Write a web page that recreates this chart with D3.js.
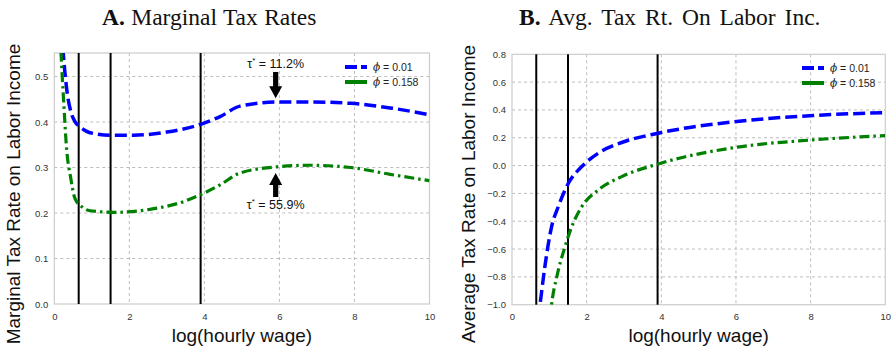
<!DOCTYPE html>
<html>
<head>
<meta charset="utf-8">
<script src="https://cdn.jsdelivr.net/npm/d3@7"></script>
<style>
  body { margin: 0; background: #fff; }
  svg { display: block; }
</style>
</head>
<body>
<div id="chart"></div>
<script>
// Panel A: marginal tax rate
const mtrX1   = [0.2, 0.24, 0.29, 0.35, 0.44, 0.55, 0.68, 0.85, 1.1, 1.5, 2.1, 3.0, 3.9, 4.42, 4.95, 6.0, 6.8, 7.9, 8.95, 10];
const mtrLow  = [0.60, 0.55, 0.503, 0.46, 0.423, 0.401, 0.39, 0.38, 0.374, 0.371, 0.371, 0.378, 0.395, 0.412, 0.435, 0.444, 0.444, 0.441, 0.431, 0.416];
const mtrX2   = [0.15, 0.18, 0.21, 0.26, 0.32, 0.44, 0.55, 0.73, 0.95, 1.6, 2.55, 3.44, 3.97, 4.42, 4.95, 6.0, 6.8, 7.9, 8.95, 10];
const mtrHigh = [0.60, 0.55, 0.503, 0.43, 0.349, 0.276, 0.232, 0.214, 0.205, 0.2015, 0.208, 0.225, 0.243, 0.262, 0.288, 0.302, 0.305, 0.300, 0.285, 0.271];

// Panel B: average tax rate
const atrX1   = [0.7, 0.75, 0.88, 1.06, 1.24, 1.51, 1.87, 2.31, 2.94, 3.92, 6.02, 8.07, 10];
const atrLow  = [-1.1, -1.0, -0.727, -0.44, -0.295, -0.127, -0.007, 0.089, 0.166, 0.233, 0.317, 0.36, 0.381];
const atrX2   = [1.02, 1.06, 1.2, 1.42, 1.6, 1.87, 2.31, 2.94, 3.92, 6.02, 8.07, 10];
const atrHigh = [-1.1, -1.0, -0.80, -0.583, -0.44, -0.295, -0.175, -0.079, 0.012, 0.132, 0.185, 0.216];

const cutoffs = [0.65, 1.5, 3.9];
const xTicks = [0, 2, 4, 6, 8, 10];
const mtrTicks = [0.0, 0.1, 0.2, 0.3, 0.4, 0.5];
const atrTicks = [-1.0, -0.8, -0.6, -0.4, -0.2, 0.0, 0.2, 0.4, 0.6, 0.8];
const seriesNames = ["0.01", "0.158"];
const tauLabels = ["11.2%", "55.9%"];

const SANS = "'Liberation Sans', Arial, sans-serif";
const SERIF = "'Liberation Serif', 'Times New Roman', serif";

const svg = d3.select("#chart").append("svg")
  .attr("width", 894).attr("height", 352);

const zip = (xs, ys) => xs.map((x, i) => [x, ys[i]]);

function panel(cfg) {
  const x = d3.scaleLinear().domain([0, 10]).range([cfg.left, cfg.right]);
  const y = d3.scaleLinear().domain(cfg.yDomain).range([cfg.bottom, cfg.top]);
  const g = svg.append("g");

  g.append("clipPath").attr("id", cfg.id)
    .append("rect")
    .attr("x", cfg.left).attr("y", cfg.top)
    .attr("width", cfg.right - cfg.left).attr("height", cfg.bottom - cfg.top);

  // grid
  g.selectAll(".gx").data(xTicks.slice(1, -1)).join("line")
    .attr("x1", d => x(d)).attr("x2", d => x(d))
    .attr("y1", cfg.top).attr("y2", cfg.bottom)
    .attr("stroke", "#bdbdbd").attr("stroke-width", 1).attr("stroke-dasharray", "3,3");
  g.selectAll(".gy").data(cfg.yTicks.filter(d => d > cfg.yDomain[0] && d < cfg.yDomain[1])).join("line")
    .attr("x1", cfg.left).attr("x2", cfg.right)
    .attr("y1", d => y(d)).attr("y2", d => y(d))
    .attr("stroke", "#bdbdbd").attr("stroke-width", 1).attr("stroke-dasharray", "3,3");

  // axes (labels only)
  const xa = g.append("g").attr("transform", `translate(0,${cfg.bottom})`)
    .call(d3.axisBottom(x).tickValues(xTicks).tickSize(0).tickPadding(9).tickFormat(d3.format("d")));
  const ya = g.append("g").attr("transform", `translate(${cfg.left},0)`)
    .call(d3.axisLeft(y).tickValues(cfg.yTicks).tickSize(0).tickPadding(6).tickFormat(d3.format(".1f")));
  [xa, ya].forEach(a => {
    a.attr("font-family", SANS).attr("font-size", 9.5);
    a.select(".domain").remove();
    a.selectAll("text").attr("fill", "#333");
  });

  // frame
  g.append("rect")
    .attr("x", cfg.left).attr("y", cfg.top)
    .attr("width", cfg.right - cfg.left).attr("height", cfg.bottom - cfg.top)
    .attr("fill", "none").attr("stroke", "#cccccc").attr("stroke-width", 1.2);

  // cutoff lines
  g.selectAll(".cut").data(cutoffs).join("line")
    .attr("x1", d => x(d)).attr("x2", d => x(d))
    .attr("y1", cfg.top).attr("y2", cfg.bottom)
    .attr("stroke", "#000").attr("stroke-width", 2);

  const line = d3.line().x(d => x(d[0])).y(d => y(d[1])).curve(d3.curveMonotoneX);
  const plot = g.append("g").attr("clip-path", `url(#${cfg.id})`);
  plot.append("path").datum(cfg.s1)
    .attr("d", line).attr("fill", "none")
    .attr("stroke", "#0000ff").attr("stroke-width", 3.5).attr("stroke-dasharray", "12,5");
  plot.append("path").datum(cfg.s2)
    .attr("d", line).attr("fill", "none")
    .attr("stroke", "#008000").attr("stroke-width", 3.2).attr("stroke-dasharray", "10,4,2.5,4");

  // legend
  const lg = g.append("g").attr("transform", `translate(${cfg.legX},${cfg.legY})`);
  lg.append("line").attr("x1", 0).attr("x2", 22).attr("y1", 0).attr("y2", 0)
    .attr("stroke", "#0000ff").attr("stroke-width", 4).attr("stroke-dasharray", "12,4");
  lg.append("line").attr("x1", 0).attr("x2", 22).attr("y1", 15).attr("y2", 15)
    .attr("stroke", "#008000").attr("stroke-width", 4);
  seriesNames.forEach((n, i) => {
    const t = lg.append("text").attr("x", 28).attr("y", 15 * i + 4)
      .attr("font-family", SANS).attr("font-size", 10.5).attr("fill", "#222");
    t.append("tspan").attr("font-style", "italic").attr("font-family", "'DejaVu Serif', serif").text("ϕ");
    t.append("tspan").text(" = " + n);
  });

  // axis titles
  g.append("text")
    .attr("x", (cfg.left + cfg.right) / 2).attr("y", 342)
    .attr("text-anchor", "middle").attr("font-family", SANS).attr("font-size", 19).attr("fill", "#111")
    .text("log(hourly wage)");
  g.append("text")
    .attr("transform", `translate(${cfg.yLabX},194) rotate(-90)`)
    .attr("text-anchor", "middle").attr("font-family", SANS).attr("font-size", 19).attr("fill", "#111")
    .text(cfg.yLabel);

  // panel title
  const tt = g.append("text").attr("x", cfg.titleX).attr("y", 25)
    .attr("font-family", SERIF)
    .attr("font-size", 23.5).attr("fill", "#111");
  tt.append("tspan").attr("font-weight", "bold").text(cfg.titleLetter);
  cfg.titleWords.forEach(w => tt.append("tspan").attr("dx", cfg.titleGap).text(" " + w));

  return { x, y, g };
}

const A = panel({
  id: "clipA", left: 54.3, right: 429.5, top: 53, bottom: 304,
  yDomain: [0, 0.5517], yTicks: mtrTicks,
  s1: zip(mtrX1, mtrLow), s2: zip(mtrX2, mtrHigh),
  legX: 345, legY: 67, yLabX: 20,
  yLabel: "Marginal Tax Rate on Labor Income",
  titleX: 102, titleLetter: "A.", titleWords: ["Marginal", "Tax", "Rates"], titleGap: 0.5
});

const B = panel({
  id: "clipB", left: 512, right: 885.3, top: 54.3, bottom: 304.7,
  yDomain: [-1.0, 0.8], yTicks: atrTicks,
  s1: zip(atrX1, atrLow), s2: zip(atrX2, atrHigh),
  legX: 802, legY: 68, yLabX: 475,
  yLabel: "Average Tax Rate on Labor Income",
  titleX: 519, titleLetter: "B.", titleWords: ["Avg.", "Tax", "Rt.", "On", "Labor", "Inc."], titleGap: 3
});

// tau* annotations with arrows on panel A
const arrowX = 5.9;
function arrow(g, x, yTail, yTip) {
  const xs = x(arrowX), t = yTail, p = yTip;
  const dir = p > t ? 1 : -1;
  const headLen = 12, headW = 6.5, shaftW = 2.6;
  const hb = p - dir * headLen;
  g.append("path")
    .attr("d", `M${xs - shaftW},${t} L${xs + shaftW},${t} L${xs + shaftW},${hb} L${xs + headW},${hb} L${xs},${p} L${xs - headW},${hb} L${xs - shaftW},${hb} Z`)
    .attr("fill", "#000");
}
arrow(A.g, A.x, A.y(0.51), A.y(0.452));
arrow(A.g, A.x, A.y(0.235), A.y(0.288));

function tauText(g, xPos, yPos, val) {
  const t = g.append("text").attr("x", xPos).attr("y", yPos)
    .attr("text-anchor", "middle").attr("font-family", SANS).attr("font-size", 12.5).attr("fill", "#111");
  t.append("tspan").text("τ");
  t.append("tspan").attr("font-size", 8).attr("dy", -5).text("*");
  t.append("tspan").attr("dy", 5).text(" = " + val);
}
tauText(A.g, A.x(arrowX), 68, tauLabels[0]);
tauText(A.g, A.x(arrowX), 209, tauLabels[1]);
</script>
</body>
</html>
